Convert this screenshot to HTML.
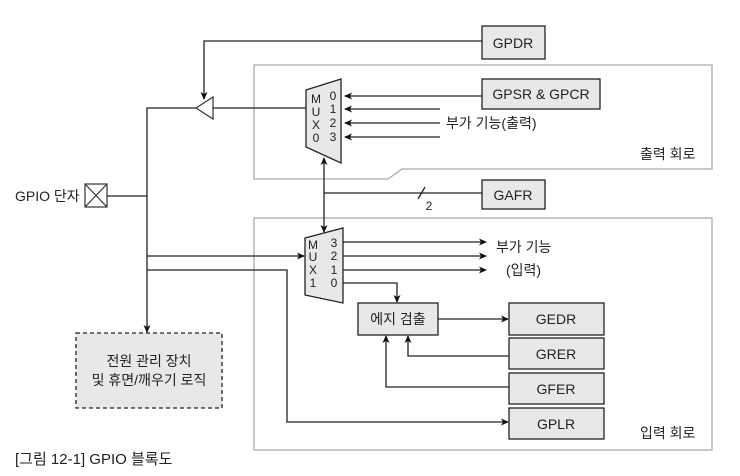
<!DOCTYPE html>
<html><head><meta charset="utf-8"><style>
html,body{margin:0;padding:0;background:#fff;}
svg text{font-family:"Liberation Sans","Noto Sans CJK KR",sans-serif;fill:#222;}
</style></head><body>
<svg width="740" height="471" viewBox="0 0 740 471" xmlns="http://www.w3.org/2000/svg">
<defs>
<marker id="a" markerWidth="8" markerHeight="8" refX="7" refY="4" orient="auto" markerUnits="userSpaceOnUse">
<path d="M0,0.5 L8,4 L0,7.5 L2,4 Z" fill="#111"/></marker>
</defs>
<g fill="none" stroke="#aaa" stroke-width="1.3">
<path d="M254,65 H712 V169 H402 L388,179 H254 Z"/>
<rect x="254" y="218" width="458" height="232"/>
</g>
<g stroke="#222" stroke-width="1.3" fill="#e8e8e8">
<rect x="482" y="26" width="63" height="33"/>
<rect x="482" y="79" width="118" height="30"/>
<rect x="482" y="180" width="63" height="29"/>
<rect x="358" y="303" width="80" height="32"/>
<rect x="509" y="303" width="95" height="32"/>
<rect x="509" y="338" width="95" height="31"/>
<rect x="509" y="373" width="95" height="31"/>
<rect x="509" y="408" width="95" height="31"/>
<path d="M306,90 L341,79 L341,163 L306,147 Z"/>
<path d="M305,238 L343,228 L343,303 L305,295 Z"/>
<rect x="76" y="333" width="146" height="75" stroke-dasharray="4,3"/>
</g>
<g stroke="#333" stroke-width="1.2" fill="#fff">
<path d="M196,108 L213,97 L213,119 Z"/>
<rect x="85" y="184" width="22" height="23"/>
<path d="M85,184 L107,207 M107,184 L85,207" fill="none"/>
</g>
<g stroke="#222" stroke-width="1.3" fill="none">
<path d="M482,41 H204 V99" marker-end="url(#a)"/>
<path d="M213,108 H306"/>
<path d="M196,108 H147 V332" marker-end="url(#a)"/>
<path d="M107,196 H147"/>
<path d="M482,96 H345" marker-end="url(#a)"/>
<path d="M440,109 H345" marker-end="url(#a)"/>
<path d="M440,123 H345" marker-end="url(#a)"/>
<path d="M440,137 H345" marker-end="url(#a)"/>
<path d="M324,200 V158" marker-end="url(#a)"/>
<path d="M324,200 V232" marker-end="url(#a)"/>
<path d="M324,193 H482"/>
<path d="M418,199 L425,187"/>
<path d="M147,256 H304" marker-end="url(#a)"/>
<path d="M147,270 H287 V422 H508" marker-end="url(#a)"/>
<path d="M343,242 H486" marker-end="url(#a)"/>
<path d="M343,256 H486" marker-end="url(#a)"/>
<path d="M343,270 H486" marker-end="url(#a)"/>
<path d="M343,283 H397 V302" marker-end="url(#a)"/>
<path d="M438,319 H508" marker-end="url(#a)"/>
<path d="M509,356 H408 V336" marker-end="url(#a)"/>
<path d="M509,387 H386 V336" marker-end="url(#a)"/>
</g>
<g font-size="14" text-anchor="middle">
<text x="513" y="48">GPDR</text>
<text x="541" y="99">GPSR &amp; GPCR</text>
<text x="513" y="200">GAFR</text>
<text x="398" y="324">에지 검출</text>
<text x="556" y="324">GEDR</text>
<text x="556" y="359">GRER</text>
<text x="556" y="394">GFER</text>
<text x="556" y="429">GPLR</text>
<text x="149" y="366">전원 관리 장치</text>
<text x="149" y="385">및 휴면/깨우기 로직</text>
</g>
<g font-size="12" text-anchor="middle">
<text x="316" y="103">M</text><text x="316" y="116">U</text><text x="316" y="129">X</text><text x="316" y="142">0</text>
<text x="333" y="100">0</text><text x="333" y="113">1</text><text x="333" y="127">2</text><text x="333" y="141">3</text>
<text x="313" y="249">M</text><text x="313" y="261">U</text><text x="313" y="274">X</text><text x="313" y="287">1</text>
<text x="334" y="247">3</text><text x="334" y="260">2</text><text x="334" y="274">1</text><text x="334" y="287">0</text>
<text x="429" y="210">2</text>
</g>
<g font-size="14">
<text x="446" y="128">부가 기능(출력)</text>
<text x="496" y="252">부가 기능</text>
<text x="506" y="275">(입력)</text>
<text x="640" y="159">출력 회로</text>
<text x="640" y="438">입력 회로</text>
<text x="15" y="201">GPIO 단자</text>
<text x="15" y="464" font-size="15">[그림 12-1] GPIO 블록도</text>
</g>
</svg>
</body></html>
